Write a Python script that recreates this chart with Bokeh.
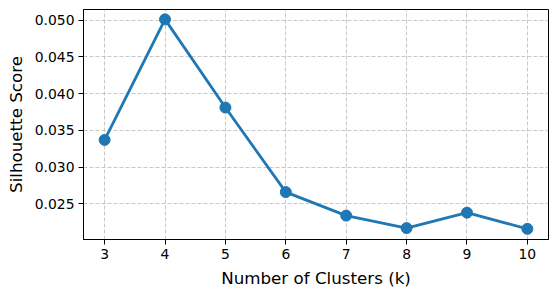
from bokeh.plotting import figure
from bokeh.models import FixedTicker, NumeralTickFormatter, Range1d
from bokeh.embed import file_html
from bokeh.resources import INLINE

k_values = [3, 4, 5, 6, 7, 8, 9, 10]
silhouette = [0.0337, 0.0501, 0.0381, 0.0266, 0.0234, 0.0217, 0.0238, 0.0216]
x_ticks = [3, 4, 5, 6, 7, 8, 9, 10]
y_ticks = [0.025, 0.030, 0.035, 0.040, 0.045, 0.050]

FONT = "DejaVu Sans"
BLUE = "#1f77b4"

p = figure(width=549, height=290, output_backend="svg", toolbar_location=None,
           x_range=Range1d(2.65, 10.35), y_range=Range1d(0.02015, 0.05144),
           min_border_left=83, min_border_right=1, min_border_top=9, min_border_bottom=50)

p.line(k_values, silhouette, line_color=BLUE, line_width=2.8)
p.scatter(k_values, silhouette, size=11, fill_color=BLUE, line_color=BLUE)

p.xaxis.ticker = FixedTicker(ticks=x_ticks)
p.yaxis.ticker = FixedTicker(ticks=y_ticks)
p.yaxis.formatter = NumeralTickFormatter(format="0.000")
p.xaxis.axis_label = "Number of Clusters (k)"
p.yaxis.axis_label = "Silhouette Score"

for ax in (p.xaxis, p.yaxis):
    ax.axis_label_text_font = FONT
    ax.axis_label_text_font_size = "16.7px"
    ax.axis_label_text_font_style = "normal"
    ax.axis_label_text_color = "#000000"
    ax.major_label_text_font = FONT
    ax.major_label_text_font_size = "13.9px"
    ax.major_label_text_color = "#000000"
    ax.major_tick_out = 5
    ax.major_tick_in = 0
    ax.minor_tick_out = 0
    ax.minor_tick_in = 0
    ax.axis_line_color = "#000000"
    ax.major_tick_line_color = "#000000"
    ax.major_label_standoff = 4
    ax.axis_label_standoff = 6

p.grid.grid_line_color = "#b0b0b0"
p.grid.grid_line_alpha = 0.7
p.grid.grid_line_dash = "4 2"
p.grid.grid_line_width = 1

p.outline_line_color = "#000000"
p.outline_line_width = 1
p.outline_line_alpha = 1
p.background_fill_color = "white"
p.border_fill_color = "white"

open("out.html", "w").write(file_html(p, INLINE))
